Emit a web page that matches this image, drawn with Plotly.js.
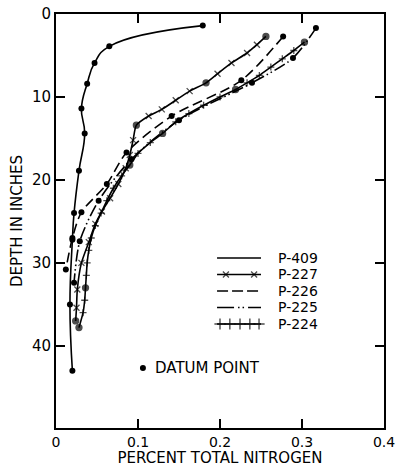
<!DOCTYPE html>
<html>
<head>
<meta charset="utf-8">
<script src="https://cdn.plot.ly/plotly-3.0.1.min.js"></script>
<style>html,body{margin:0;padding:0;background:#fff;}#chart{width:397px;height:467px;}</style>
</head>
<body>
<div id="chart"></div>
<script>
// ---- data (percent total nitrogen vs depth in inches) ----
const p409_n = [0.179,0.065,0.047,0.038,0.031,0.035,0.028,0.022,0.020,0.017,0.020];
const p409_d = [1.4,3.9,5.9,8.4,11.4,14.4,18.9,24.0,27.2,35.0,43.0];

const p227_n = [0.256,0.245,0.233,0.214,0.197,0.183,0.163,0.146,0.129,0.113,0.098,0.094,0.090,0.085,0.076,0.066,0.056,0.048,0.040,0.031,0.026,0.025,0.024];
const p227_d = [2.7,3.7,4.7,5.9,7.2,8.3,9.3,10.4,11.5,12.3,13.4,15.2,17.0,18.6,20.5,22.2,23.8,25.3,27.5,30.0,33.2,35.4,37.0];
const p227_datum = [1,0,0,0,0,1,0,0,0,0,1,0,0,0,0,0,0,0,0,0,0,0,1];

const p226_n = [0.277,0.226,0.141,0.086,0.062,0.031,0.020,0.012];
const p226_d = [2.7,8.0,12.3,16.7,20.5,23.9,27.0,30.8];

const p225_n = [0.317,0.289,0.239,0.150,0.092,0.052,0.029,0.022];
const p225_d = [1.7,5.3,8.3,12.8,17.5,22.5,27.4,32.4];

const p224_n = [0.303,0.290,0.276,0.262,0.248,0.233,0.219,0.200,0.180,0.162,0.146,0.130,0.115,0.100,0.090,0.080,0.070,0.062,0.055,0.048,0.043,0.040,0.038,0.037,0.036,0.035,0.033,0.028];
const p224_d = [3.4,4.4,5.4,6.4,7.4,8.3,9.1,10.0,11.0,12.0,13.0,14.4,15.5,16.8,18.2,19.5,21.0,22.5,24.0,25.5,27.0,28.5,30.0,31.5,33.0,34.5,36.0,37.8];
const p224_datum = [1,0,0,0,0,0,1,0,0,0,0,1,0,0,1,0,0,0,0,0,0,0,0,0,1,0,0,1];

const seriesNames = ["P-409","P-227","P-226","P-225","P-224"];
const xTicks = [0,0.1,0.2,0.3,0.4];
const xTickText = ["0","0.1","0.2","0.3","0.4"];
const yTicks = [0,10,20,30,40];

// ---- styles ----
const K = "#000";
const LW = 1.6;
const DOT = 6;
const dash225 = "12px,3px,1.5px,3px,1.5px,3px";

const traces = [];
traces.push({x:p409_n, y:p409_d, mode:"lines+markers", name:seriesNames[0], showlegend:false,
  line:{color:K,width:LW,shape:"spline",smoothing:1.3}, marker:{color:K,size:DOT,symbol:"circle"}});
traces.push({x:p227_n, y:p227_d, mode:"lines+markers", name:seriesNames[1], showlegend:false,
  line:{color:K,width:LW,shape:"spline",smoothing:0.6},
  marker:{color:K,size:p227_datum.map(f=>f?DOT:6),symbol:p227_datum.map(f=>f?"circle":"x-thin-open"),line:{color:K,width:1.3}}});
traces.push({x:p226_n, y:p226_d, mode:"lines+markers", name:seriesNames[2], showlegend:false,
  line:{color:K,width:LW,dash:"10px,5px",shape:"spline",smoothing:0.8}, marker:{color:K,size:DOT}});
traces.push({x:p225_n, y:p225_d, mode:"lines+markers", name:seriesNames[3], showlegend:false,
  line:{color:K,width:LW,dash:dash225,shape:"spline",smoothing:0.8}, marker:{color:K,size:DOT}});
traces.push({x:p224_n, y:p224_d, mode:"lines+markers", name:seriesNames[4], showlegend:false,
  line:{color:K,width:LW,shape:"spline",smoothing:0.6},
  marker:{color:K,size:p224_datum.map(f=>f?DOT:5),symbol:p224_datum.map(f=>f?"circle":"cross-thin-open"),line:{color:K,width:1.3}}});

// ---- hand-made legend on an overlay paper-like axis ----
const legRows = [0.4106,0.3708,0.3309,0.2911,0.2512];
const lx0 = 0.491, lx1 = 0.625;
const leg = (xs, y, opts) => Object.assign({x:xs, y:xs.map(()=>y), xaxis:"x2", yaxis:"y2", showlegend:false, hoverinfo:"skip"}, opts);
traces.push(leg([lx0,lx1], legRows[0], {mode:"lines", line:{color:K,width:LW}}));
traces.push(leg([lx0,0.518,0.604,lx1], legRows[1], {mode:"lines+markers", line:{color:K,width:LW},
  marker:{symbol:"x-thin-open",size:[0,6,6,0],line:{color:K,width:1.3}}}));
traces.push(leg([lx0,lx1], legRows[2], {mode:"lines", line:{color:K,width:LW,dash:"11px,4px"}}));
traces.push(leg([lx0,lx1], legRows[3], {mode:"lines", line:{color:K,width:LW,dash:"17px,4px,1.5px,3px,1.5px,4px"}}));
traces.push(leg([lx0,0.50,0.53,0.561,0.591,0.619,lx1], legRows[4], {mode:"lines+markers", line:{color:K,width:LW},
  marker:{symbol:"cross-thin-open",size:[0,8,8,8,8,8,0],line:{color:K,width:1.4}}}));
traces.push(leg([0.265], 0.145, {mode:"markers", marker:{color:K,size:DOT}}));

const annotations = seriesNames.map((s,i)=>({xref:"paper",yref:"paper",x:0.674,y:legRows[i],xanchor:"left",yanchor:"middle",
  text:s,showarrow:false,borderpad:0,font:{size:14,color:K}}));
annotations.push({xref:"paper",yref:"paper",x:0.296,y:0.145,xanchor:"left",yanchor:"middle",text:"DATUM POINT",showarrow:false,font:{size:15,color:K}});

const axisCommon = {showline:true,linewidth:2,linecolor:K,mirror:"ticks",ticks:"inside",ticklen:9,tickwidth:1.5,tickcolor:K,
  showgrid:false,zeroline:false,tickfont:{size:15,color:K}};

const layout = {
  width:397,height:467,
  margin:{l:56,r:13,t:14,b:39},
  paper_bgcolor:"#fff",plot_bgcolor:"#fff",
  font:{family:"DejaVu Sans, sans-serif",color:K},
  showlegend:false,
  xaxis:Object.assign({},axisCommon,{range:[0,0.4],tickvals:xTicks,ticktext:xTickText,tickfont:{size:14,color:K},
    title:{text:"PERCENT TOTAL NITROGEN",font:{size:15,color:K},standoff:8}}),
  yaxis:Object.assign({},axisCommon,{range:[49.9,0],tickvals:yTicks,
    title:{text:"DEPTH IN INCHES",font:{size:15,color:K},standoff:6}}),
  xaxis2:{overlaying:"x",range:[0,1],visible:false,anchor:"y2"},
  yaxis2:{overlaying:"y",range:[0,1],visible:false,anchor:"x2"},
  annotations:annotations
};

Plotly.newPlot("chart",traces,layout,{staticPlot:true,displayModeBar:false});
</script>
</body>
</html>
